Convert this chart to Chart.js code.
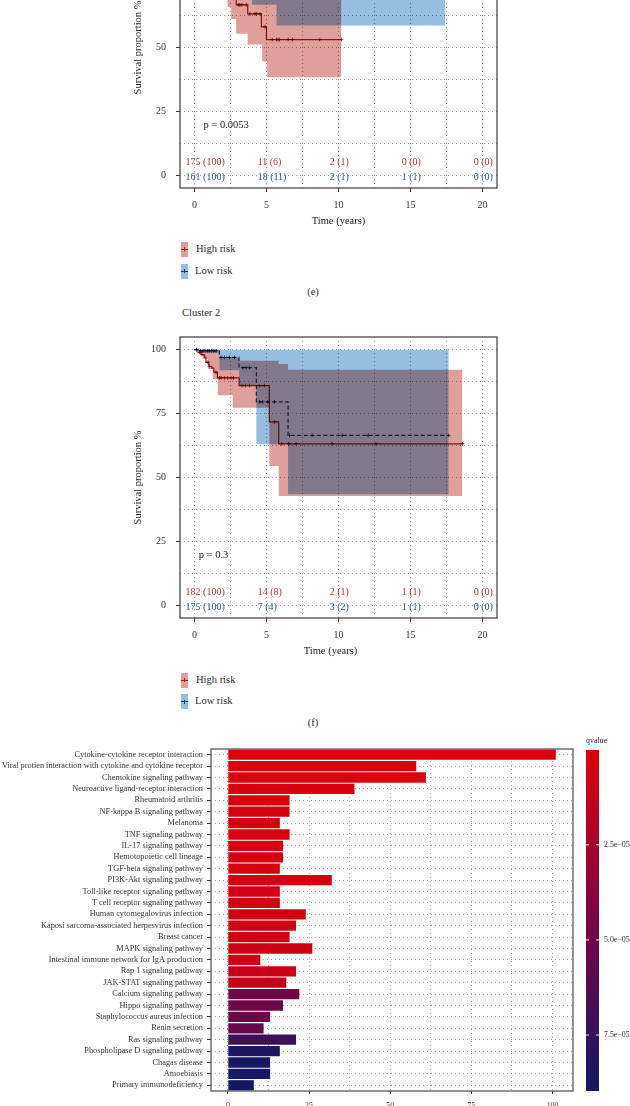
<!DOCTYPE html>
<html>
<head>
<meta charset="utf-8">
<script src="https://cdn.jsdelivr.net/npm/chart.js@4/dist/chart.umd.min.js"></script>
<style>
html,body{margin:0;padding:0;background:#fff;}
body{width:630px;height:1106px;overflow:hidden;position:relative;font-family:"Liberation Serif","Times New Roman",serif;color:#2a2a2a;}
canvas{position:absolute;}
.t{position:absolute;white-space:nowrap;font-size:10.5px;line-height:12px;}
.c{transform:translateX(-50%);}
.key{position:absolute;width:7px;height:15px;}
.key i{position:absolute;left:0;right:0;top:7px;height:1px;}
.key b{position:absolute;left:3px;width:1px;top:5.5px;height:4px;}
</style>
</head>
<body>
<canvas id="cE" width="400" height="340" style="left:120px;top:-100px;width:400px;height:340px"></canvas>
<canvas id="cF" width="400" height="340" style="left:120px;top:330px;width:400px;height:340px"></canvas>
<canvas id="cG" width="630" height="371" style="left:0px;top:735px;width:630px;height:371px"></canvas>

<div class="key" style="left:181px;top:241.5px;background:#DFA09C"><i style="background:#A11D1D"></i><b style="background:#A11D1D"></b></div>
<div class="t" style="left:196px;top:243px">High risk</div>
<div class="key" style="left:181px;top:263.5px;background:#96BEE2"><i style="background:#1F3C78"></i><b style="background:#1F3C78"></b></div>
<div class="t" style="left:195px;top:265px">Low risk</div>
<div class="t c" style="left:313px;top:286px">(e)</div>
<div class="t" style="left:182px;top:307px">Cluster 2</div>

<div class="key" style="left:181px;top:672.5px;background:#DFA09C"><i style="background:#A11D1D"></i><b style="background:#A11D1D"></b></div>
<div class="t" style="left:196px;top:674px">High risk</div>
<div class="key" style="left:181px;top:694px;background:#96BEE2"><i style="background:#1F3C78"></i><b style="background:#1F3C78"></b></div>
<div class="t" style="left:195px;top:695px">Low risk</div>
<div class="t c" style="left:313px;top:717px">(f)</div>

<script>
// ---------------- Kaplan-Meier: shared axes ----------------
const kmTimeTicks = [0, 5, 10, 15, 20];
const kmGridX = [0, 2.5, 5, 7.5, 10, 12.5, 15, 17.5, 20];
const kmSurvTicks = [0, 25, 50, 75, 100];
const kmGridY = [0, 12.5, 25, 37.5, 50, 62.5, 75, 87.5, 100];
const riskTimes = [0, 5, 10, 15, 20];

// ---------------- Panel (e) ----------------
const eHighTime = [0, 0.5, 1.0, 1.5, 2.0, 2.4, 2.9, 3.7, 4.65, 5.0, 10.2];
const eHighSurv = [100, 97.5, 94.5, 90.5, 85.5, 77.5, 66.7, 63.2, 58.1, 53.1, 53.1];
const eHighCensTime = [0.8, 1.3, 1.8, 2.2, 3.05, 3.15, 3.3, 3.6, 3.85, 4.2, 4.3, 4.55, 4.9, 5.4, 5.7, 5.8, 5.9, 6.5, 6.8, 8.7, 10.2];
const eHighCensSurv = [97.5, 94.5, 90.5, 85.5, 66.7, 66.7, 66.7, 66.7, 63.2, 63.2, 63.2, 63.2, 58.1, 53.1, 53.1, 53.1, 53.1, 53.1, 53.1, 53.1, 53.1];
const eHighBandTime = [0, 0.5, 1.0, 1.5, 2.0, 2.3, 2.55, 2.9, 3.7, 4.7, 5.05, 10.2];
const eHighUpper = [100, 100, 99.5, 97.5, 94.5, 89.5, 88.0, 79.5, 77.0, 73.5, 69.5, 69.5];
const eHighLower = [100, 92.5, 87.0, 81.0, 74.5, 65.9, 61.2, 55.4, 51.2, 44.6, 38.4, 38.4];
const eLowTime = [0, 0.6, 1.2, 2.0, 2.8, 3.5, 4.0, 5.7, 17.4];
const eLowSurv = [100, 99.0, 97.6, 96.1, 94.3, 92.2, 87.0, 80.5, 80.5];
const eLowCensTime = [0.3, 0.9, 1.5, 2.4, 3.2, 4.5, 6.5, 8.0, 10.5, 13.0, 17.4];
const eLowCensSurv = [100, 99.0, 97.6, 96.1, 94.3, 87.0, 80.5, 80.5, 80.5, 80.5, 80.5];
const eLowBandTime = [0, 0.6, 1.2, 2.0, 2.8, 3.5, 4.0, 5.7, 17.4];
const eLowUpper = [100, 100, 100, 100, 100, 100, 100, 100, 100];
const eLowLower = [100, 97.0, 94.6, 92.0, 89.0, 85.5, 66.7, 58.6, 58.6];
const eRiskHigh = ['175 (100)', '11 (6)', '2 (1)', '0 (0)', '0 (0)'];
const eRiskLow = ['161 (100)', '18 (11)', '2 (1)', '1 (1)', '0 (0)'];
const ePText = 'p = 0.0053';

// ---------------- Panel (f) ----------------
const fHighTime = [0, 0.25, 0.45, 0.7, 0.8, 1.0, 1.2, 1.35, 1.6, 3.1, 5.2, 5.85, 18.6];
const fHighSurv = [100, 99.0, 98.1, 97.0, 95.1, 93.5, 92.8, 91.2, 89.0, 86.0, 71.8, 63.2, 63.2];
const fHighCensTime = [0.35, 0.53, 0.93, 1.04, 1.5, 1.74, 1.85, 2.08, 2.31, 2.55, 2.71, 3.31, 3.54, 3.82, 4.51, 4.86, 5.56, 6.06, 6.55, 7.06, 9.56, 12.6, 18.6];
const fHighCensSurv = [99.0, 98.1, 95.1, 93.5, 91.2, 89.0, 89.0, 89.0, 89.0, 89.0, 89.0, 86.0, 86.0, 86.0, 86.0, 86.0, 71.8, 63.2, 63.2, 63.2, 63.2, 63.2, 63.2];
const fHighBandTime = [0, 0.35, 0.58, 0.93, 1.27, 1.62, 1.74, 2.66, 3.1, 5.2, 5.85, 6.5, 18.6];
const fHighUpper = [100, 100, 100, 100, 100, 100, 97.0, 97.0, 95.7, 95.7, 94.4, 92.2, 92.2];
const fHighLower = [100, 98.5, 96.4, 92.5, 88.6, 82.2, 82.2, 77.3, 77.3, 54.5, 42.8, 42.8, 42.8];
const fLowTime = [0, 0.3, 1.74, 3.1, 4.3, 6.5, 17.65];
const fLowSurv = [100, 99.6, 97.0, 93.0, 79.6, 66.5, 66.5];
const fLowCensTime = [0.15, 0.45, 0.6, 0.75, 0.9, 1.05, 1.2, 1.35, 1.5, 1.85, 2.08, 2.43, 2.78, 3.35, 3.59, 3.82, 4.51, 4.74, 5.09, 5.56, 6.6, 8.17, 10.26, 12.06, 17.65];
const fLowCensSurv = [100, 99.6, 99.6, 99.6, 99.6, 99.6, 99.6, 99.6, 99.6, 97.0, 97.0, 97.0, 97.0, 93.0, 93.0, 93.0, 79.6, 79.6, 79.6, 79.6, 66.5, 66.5, 66.5, 66.5, 66.5];
const fLowBandTime = [0, 0.3, 1.74, 3.1, 4.3, 6.5, 17.65];
const fLowUpper = [100, 100, 100, 100, 100, 100, 100];
const fLowLower = [100, 98.8, 92.0, 86.0, 63.0, 43.4, 43.4];
const fRiskHigh = ['182 (100)', '14 (8)', '2 (1)', '1 (1)', '0 (0)'];
const fRiskLow = ['175 (100)', '7 (4)', '3 (2)', '1 (1)', '0 (0)'];
const fPText = 'p = 0.3';

// ---------------- Enrichment bar chart ----------------
const pathways = [
  'Cytokine-cytokine receptor interaction',
  'Viral protien interaction with cytokine and cytokine receptor',
  'Chemokine signaling pathway',
  'Neuroactive ligand-receptor interaction',
  'Rheumatoid arthritis',
  'NF-kappa B signaling pathway',
  'Melanoma',
  'TNF signaling pathway',
  'IL-17 signaling pathway',
  'Hemotopoietic cell lineage',
  'TGF-beta signaling pathway',
  'PI3K-Akt signaling pathway',
  'Toll-like receptor signaling pathway',
  'T cell receptor signaling pathway',
  'Human cytomegalovirus infection',
  'Kaposi sarcoma-associated herpesvirus infection',
  'Breast cancer',
  'MAPK signaling pathway',
  'Intestinal immune network for IgA production',
  'Rap 1 signaling pathway',
  'JAK-STAT signaling pathway',
  'Calcium signaling pathway',
  'Hippo signaling pathway',
  'Staphylococcus aureus infection',
  'Renin secretion',
  'Ras signaling pathway',
  'Phospholipase D signaling pathway',
  'Chagas disease',
  'Amoebiasis',
  'Primary immunodeficiency'
];
const geneCounts = [101, 58, 61, 39, 19, 19, 16, 19, 17, 17, 16, 32, 16, 16, 24, 21, 19, 26, 10, 21, 18, 22, 17, 13, 11, 21, 16, 13, 13, 8];
const qValues = [1e-7, 2e-7, 3e-7, 5e-7, 2.0e-6, 2.2e-6, 2.5e-6, 2.8e-6, 3.0e-6, 3.2e-6, 3.5e-6, 4.0e-6, 4.5e-6, 5.0e-6, 5.5e-6, 6.0e-6, 6.5e-6, 7.0e-6, 8.0e-6, 9.0e-6, 1.05e-5, 5.0e-5, 5.1e-5, 5.2e-5, 5.3e-5, 7.2e-5, 8.6e-5, 8.7e-5, 8.8e-5, 8.97e-5];
const barTickLabels = [0, 25, 50, 75, 100];
const barGridX = [0, 12.5, 25, 37.5, 50, 62.5, 75, 87.5, 100];
const qTicks = [2.5e-5, 5.0e-5, 7.5e-5];
const qTickLabels = ['2.5e\u221205', '5.0e\u221205', '7.5e\u221205'];

// ---------------- styling ----------------
const FONT = '"Liberation Serif", "Times New Roman", serif';
const RED_LINE = '#A11D1D', BLUE_LINE = '#1F3C78';
const PINK = '#DFA09C', LBLUE = '#96BEE2';
const RED_TXT = '#B03434', BLUE_TXT = '#2C55A8';
const GRID = '#8e8e8e';

function pts(xs, ys) { return xs.map((x, i) => ({x: x, y: ys[i]})); }
function noPad(s) { s.paddingTop = 0; s.paddingBottom = 0; s.paddingLeft = 0; s.paddingRight = 0; }

function kmPlugin(d, pTime, titleShift) {
  return {
    id: 'km',
    beforeDatasetsDraw(chart) { chart.ctx.save(); chart.ctx.globalCompositeOperation = 'multiply'; },
    afterDatasetsDraw(chart) { chart.ctx.restore(); },
    afterDraw(chart) {
      const ctx = chart.ctx, a = chart.chartArea, x = chart.scales.x, y = chart.scales.y;
      ctx.save();
      ctx.strokeStyle = '#4a4a4a'; ctx.lineWidth = 1.3;
      ctx.strokeRect(a.left, a.top, a.right - a.left, a.bottom - a.top);
      ctx.font = '10px ' + FONT; ctx.textBaseline = 'middle'; ctx.textAlign = 'left';
      riskTimes.forEach((t, i) => {
        const px = x.getPixelForValue(t) - 8.8;
        ctx.fillStyle = RED_TXT; ctx.fillText(d.riskHigh[i], px, y.getPixelForValue(5.2));
        ctx.fillStyle = BLUE_TXT; ctx.fillText(d.riskLow[i], px, y.getPixelForValue(-0.9));
      });
      ctx.fillStyle = '#222'; ctx.font = '10.5px ' + FONT;
      ctx.fillText(d.pText, x.getPixelForValue(pTime), y.getPixelForValue(19.6));
      // x-axis title
      ctx.textAlign = 'center';
      ctx.fillText('Time (years)', (a.left + a.right) / 2 + titleShift, a.bottom + 33);
      ctx.restore();
    }
  };
}

function bandSet(xs, ys, fill, color) {
  return {data: pts(xs, ys), stepped: true, borderWidth: 0, borderColor: 'rgba(0,0,0,0)', pointRadius: 0, fill: fill, backgroundColor: color || 'rgba(0,0,0,0)'};
}

function buildKM(id, d, pTime, titleShift) {
  return new Chart(document.getElementById(id), {
    type: 'line',
    data: {datasets: [
      {data: pts(d.highTime, d.highSurv), borderColor: RED_LINE, borderWidth: 1.2, stepped: true, pointRadius: 0, fill: false},
      {data: pts(d.lowTime, d.lowSurv), borderColor: BLUE_LINE, borderWidth: 1.2, borderDash: [4, 2.5], stepped: true, pointRadius: 0, fill: false},
      {data: pts(d.highCensTime, d.highCensSurv), showLine: false, pointStyle: 'cross', pointRadius: 1.9, pointBorderWidth: 0.9, pointBorderColor: RED_LINE, borderColor: RED_LINE, fill: false},
      {data: pts(d.lowCensTime, d.lowCensSurv), showLine: false, pointStyle: 'cross', pointRadius: 1.9, pointBorderWidth: 0.9, pointBorderColor: BLUE_LINE, borderColor: BLUE_LINE, fill: false},
      bandSet(d.highBandTime, d.highUpper, '+1', PINK),
      bandSet(d.highBandTime, d.highLower, false),
      bandSet(d.lowBandTime, d.lowUpper, '+1', LBLUE),
      bandSet(d.lowBandTime, d.lowLower, false)
    ]},
    options: {
      responsive: false, animation: false, devicePixelRatio: 1,
      layout: {padding: {left: 0, top: 7, right: 23, bottom: 0}},
      plugins: {legend: {display: false}, tooltip: {enabled: false}},
      scales: {
        x: {
          type: 'linear', min: -1, max: 21,
          afterBuildTicks: s => { s.ticks = kmGridX.map(v => ({value: v})); },
          afterFit: s => { s.height = 52; noPad(s); },
          ticks: {autoSkip: false, maxRotation: 0, padding: 7, color: '#333', font: {family: FONT, size: 10},
                  callback: v => kmTimeTicks.includes(v) ? String(v) : ''},
          grid: {color: GRID, lineWidth: 0.9, tickLength: 4, tickWidth: 1,
                 tickColor: c => (c.tick && kmTimeTicks.includes(c.tick.value)) ? '#333' : 'rgba(0,0,0,0)'},
          border: {display: false, dash: [1, 3]}
        },
        y: {
          type: 'linear', min: -5, max: 105,
          afterBuildTicks: s => { s.ticks = kmGridY.map(v => ({value: v})); },
          afterFit: s => { s.width = 60; noPad(s); },
          ticks: {autoSkip: false, padding: 10, color: '#333', font: {family: FONT, size: 10},
                  callback: v => kmSurvTicks.includes(v) ? String(v) : ''},
          grid: {color: GRID, lineWidth: 0.9, tickLength: 4, tickWidth: 1,
                 tickColor: c => (c.tick && kmSurvTicks.includes(c.tick.value)) ? '#333' : 'rgba(0,0,0,0)'},
          border: {display: false, dash: [1, 3]},
          title: {display: true, text: 'Survival proportion %', color: '#222', font: {family: FONT, size: 10.5}, padding: {top: 12, bottom: 0}}
        }
      }
    },
    plugins: [kmPlugin(d, pTime, titleShift)]
  });
}

buildKM('cE', {
  highTime: eHighTime, highSurv: eHighSurv, highCensTime: eHighCensTime, highCensSurv: eHighCensSurv,
  highBandTime: eHighBandTime, highUpper: eHighUpper, highLower: eHighLower,
  lowTime: eLowTime, lowSurv: eLowSurv, lowCensTime: eLowCensTime, lowCensSurv: eLowCensSurv,
  lowBandTime: eLowBandTime, lowUpper: eLowUpper, lowLower: eLowLower,
  riskHigh: eRiskHigh, riskLow: eRiskLow, pText: ePText
}, 0.63, 0);

buildKM('cF', {
  highTime: fHighTime, highSurv: fHighSurv, highCensTime: fHighCensTime, highCensSurv: fHighCensSurv,
  highBandTime: fHighBandTime, highUpper: fHighUpper, highLower: fHighLower,
  lowTime: fLowTime, lowSurv: fLowSurv, lowCensTime: fLowCensTime, lowCensSurv: fLowCensSurv,
  lowBandTime: fLowBandTime, lowUpper: fLowUpper, lowLower: fLowLower,
  riskHigh: fRiskHigh, riskLow: fRiskLow, pText: fPText
}, 0.3, -8);

// ---------------- colour scale ----------------
const qMin = Math.min(...qValues), qMax = Math.max(...qValues);
const cLow = [220, 0, 12], cMid = [122, 4, 68], cHigh = [18, 24, 102];
function colorAt(t) {
  t = Math.max(0, Math.min(1, t));
  const a = t < 0.5 ? cLow : cMid, b = t < 0.5 ? cMid : cHigh, u = t < 0.5 ? t * 2 : (t - 0.5) * 2;
  return 'rgb(' + [0, 1, 2].map(k => Math.round(a[k] + (b[k] - a[k]) * u)).join(',') + ')';
}
function qColor(q) { return colorAt((q - qMin) / (qMax - qMin)); }

const colorbarPlugin = {
  id: 'colorbar',
  afterDraw(chart) {
    const ctx = chart.ctx, a = chart.chartArea;
    ctx.save();
    ctx.strokeStyle = '#5a5a5a'; ctx.lineWidth = 1.3;
    ctx.strokeRect(a.left, a.top, a.right - a.left, a.bottom - a.top);
    const x0 = a.right + 13, y0 = a.top + 1, w = 13, h = a.bottom - a.top - 1;
    const g = ctx.createLinearGradient(0, y0, 0, y0 + h);
    for (let i = 0; i <= 20; i++) g.addColorStop(i / 20, colorAt(i / 20));
    ctx.fillStyle = g; ctx.fillRect(x0, y0, w, h);
    ctx.font = '7.9px ' + FONT; ctx.textBaseline = 'middle'; ctx.textAlign = 'left';
    qTicks.forEach((q, i) => {
      const yy = y0 + (q - qMin) / (qMax - qMin) * h;
      ctx.strokeStyle = 'rgba(255,255,255,0.9)'; ctx.lineWidth = 1;
      ctx.beginPath(); ctx.moveTo(x0, yy); ctx.lineTo(x0 + 3, yy); ctx.moveTo(x0 + w - 3, yy); ctx.lineTo(x0 + w, yy); ctx.stroke();
      ctx.fillStyle = '#333'; ctx.fillText(qTickLabels[i], x0 + w + 5, yy);
    });
    ctx.font = '7.9px ' + FONT; ctx.fillStyle = '#222';
    ctx.fillText('qvalue', x0, a.top - 8);
    ctx.restore();
  }
};

new Chart(document.getElementById('cG'), {
  type: 'bar',
  data: {labels: pathways, datasets: [{data: geneCounts, backgroundColor: qValues.map(qColor), barPercentage: 0.9, categoryPercentage: 1, borderWidth: 0}]},
  options: {
    indexAxis: 'y', responsive: false, animation: false, devicePixelRatio: 1,
    layout: {padding: {left: 0, top: 14, right: 57, bottom: 0}},
    plugins: {legend: {display: false}, tooltip: {enabled: false}},
    scales: {
      x: {
        type: 'linear', min: -5.2, max: 106.3,
        afterBuildTicks: s => { s.ticks = barGridX.map(v => ({value: v})); },
        afterFit: s => { s.height = 15; noPad(s); },
        ticks: {autoSkip: false, maxRotation: 0, padding: 7, color: '#444', font: {family: FONT, size: 7.9},
                callback: v => barTickLabels.includes(v) ? String(v) : ''},
        grid: {color: GRID, lineWidth: 0.8, tickLength: 3, tickWidth: 1,
               tickColor: c => (c.tick && barTickLabels.includes(c.tick.value)) ? '#333' : 'rgba(0,0,0,0)'},
        border: {display: false, dash: [1, 3]}
      },
      y: {
        type: 'category',
        afterFit: s => { s.width = 211; noPad(s); },
        ticks: {autoSkip: false, padding: 4, color: '#333', font: {family: FONT, size: 8.3}},
        grid: {offset: false, color: GRID, lineWidth: 0.8, tickLength: 4, tickWidth: 1, tickColor: '#333'},
        border: {display: false, dash: [1, 3]}
      }
    }
  },
  plugins: [colorbarPlugin]
});
</script>
</body>
</html>
